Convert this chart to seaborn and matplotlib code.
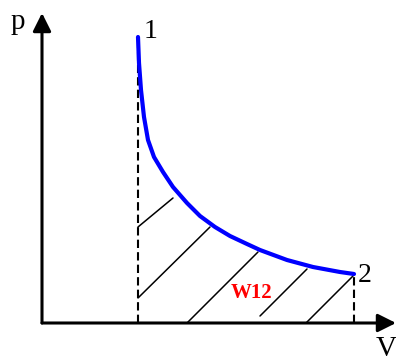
import matplotlib
matplotlib.use("Agg")
import matplotlib.pyplot as plt
import seaborn as sns
import pandas as pd

# Curva del proceso 1-2 (V, p en unidades arbitrarias)
V_CURVE = [9.6, 9.7, 9.9, 10.2, 10.6, 11.2, 12.1, 13.1, 14.5, 15.8, 17.3,
           18.8, 20.5, 21.8, 24.5, 27.1, 29.8, 31.2]
P_CURVE = [28.6, 26.0, 23.3, 20.6, 18.3, 16.6, 15.1, 13.6, 12.0, 10.7, 9.6,
           8.7, 7.9, 7.3, 6.3, 5.6, 5.1, 4.9]

# Estados 1 y 2
V1, P1 = 9.6, 28.6
V2, P2 = 31.2, 4.9

# Líneas de rayado (trabajo W12): (V inicio, p inicio, V fin, p fin)
HATCH_V0 = [9.6, 9.6, 14.5, 21.8, 26.4]
HATCH_P0 = [9.6, 2.5, 0.0, 0.7, 0.0]
HATCH_V1 = [13.1, 16.8, 21.6, 26.5, 31.1]
HATCH_P1 = [12.5, 9.6, 7.1, 5.4, 4.7]

# Extremos de los ejes
V_MAX = 35.4
P_MAX = 31.0

sns.set_style("white")
plt.rcParams["font.family"] = ["Liberation Serif", "DejaVu Serif"]

fig = plt.figure(figsize=(3.96, 3.62), dpi=100)
ax = fig.add_axes([0, 0, 1, 1])

# Ejes con flecha
arrow = dict(arrowstyle="-|>,head_length=1.1,head_width=0.55", mutation_scale=10,
             lw=2.2, color="black", shrinkA=0, shrinkB=0)
ax.annotate("", xy=(0, P_MAX), xytext=(0, 0), arrowprops=arrow)
ax.annotate("", xy=(V_MAX, 0), xytext=(0, 0), arrowprops=arrow)

# Rayado
for v0, p0, v1, p1 in zip(HATCH_V0, HATCH_P0, HATCH_V1, HATCH_P1):
    ax.plot([v0, v1], [p0, p1], color="black", lw=1.1)

# Verticales discontinuas
ax.plot([V1, V1], [0, P1], color="black", lw=1.5, dashes=(4, 2))
ax.plot([V2, V2], [0, P2], color="black", lw=1.5, dashes=(4, 2))

# Curva
df = pd.DataFrame({"V": V_CURVE, "p": P_CURVE})
sns.lineplot(data=df, x="V", y="p", ax=ax, color="#0000FF", lw=3.0, sort=False,
             solid_joinstyle="round", solid_capstyle="round")
ax.set_xlim(-4.2, 35.4)
ax.set_ylim(-3.9, 32.3)
ax.axis("off")

# Textos
ax.text(-2.4, 30.1, "p", fontsize=21, color="black", ha="center", va="center")
ax.text(34.4, -2.6, "V", fontsize=21, color="black", ha="center", va="center")
ax.text(10.9, 29.2, "1", fontsize=20, color="black", ha="center", va="center")
ax.text(32.3, 4.7, "2", fontsize=20, color="black", ha="center", va="center")
ax.text(21.0, 3.0, "W12", fontsize=15, fontweight="bold", color="red",
        ha="center", va="center")

fig.savefig("out.png", dpi=100)
